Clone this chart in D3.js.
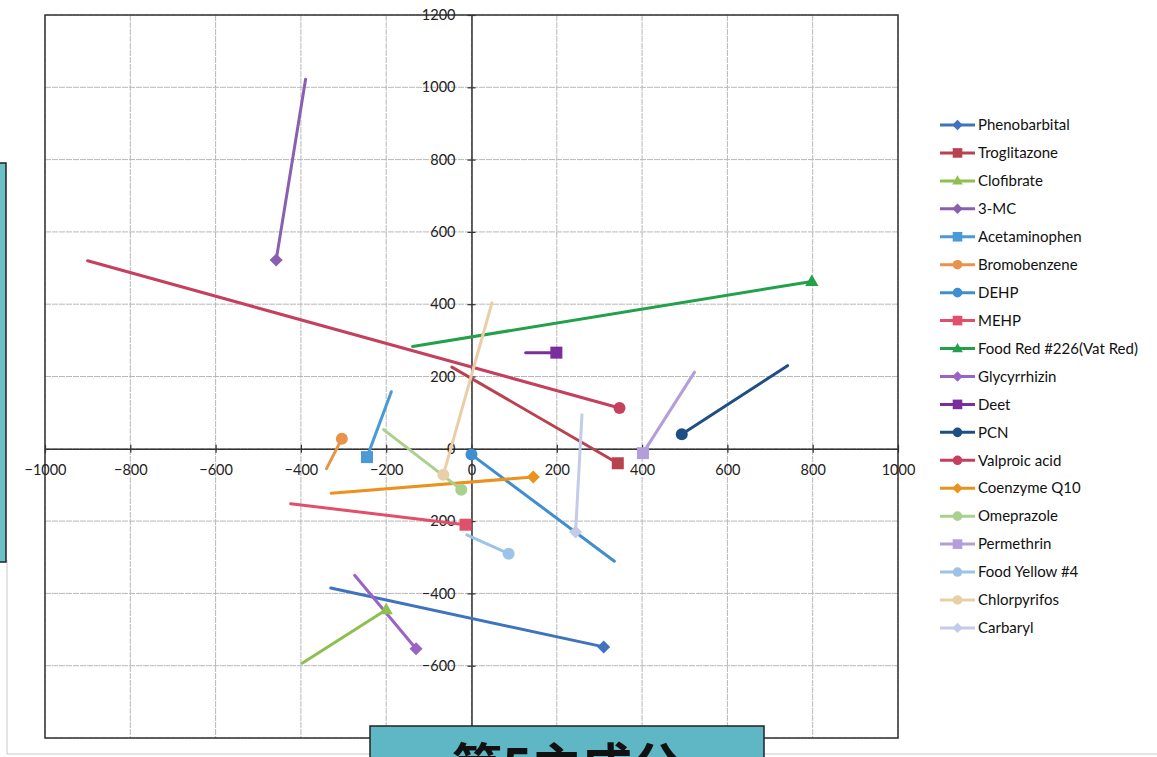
<!DOCTYPE html>
<html><head><meta charset="utf-8">
<script src="https://cdn.jsdelivr.net/npm/d3@7/dist/d3.min.js"></script>
<style>body{margin:0;background:#fff;}svg{display:block;}</style>
</head><body>
<svg id="c" width="1157" height="757"></svg>
<script>
const seriesNames = ["Phenobarbital","Troglitazone","Clofibrate","3-MC","Acetaminophen","Bromobenzene","DEHP","MEHP","Food Red #226(Vat Red)","Glycyrrhizin","Deet","PCN","Valproic acid","Coenzyme Q10","Omeprazole","Permethrin","Food Yellow #4","Chlorpyrifos","Carbaryl"];
const startX = [-330,-46,-397,-389,-188,-340,335,-424,-138,-274,127,741,-900,-329,-206,523,-11,48,259];
const startY = [-385,226,-593,1022,158,-55,-311,-152,283,-350,266,230,520,-123,53,212,-238,404,94];
const endX = [310,343,-200,-458,-245,-304,0,-14,798,-130,199,493,347,145,-24,402,87,-66,244];
const endY = [-548,-40,-445,522,-23,28,-16,-210,463,-553,266,40,113,-78,-113,-12,-290,-72,-230];
const seriesColors = ["#3f72bf","#b8434f","#8fbf4f","#8a5fb0","#4a9ad8","#e8924a","#3f8fd0","#e0506a","#22a04a","#9a63c8","#7a2e9e","#1f4e85","#c4405e","#eb921e","#a9d18e","#b39ddb","#9dc3e6","#e8cfa8","#c3cbe8"];
const seriesMarkers = ["diamond","square","triangle","diamond","square","circle","circle","square","triangle","diamond","square","circle","circle","diamond","circle","square","circle","circle","diamond"];
const xTicks = [-1000,-800,-600,-400,-200,0,200,400,600,800,1000];
const yTicks = [-800,-600,-400,-200,0,200,400,600,800,1000,1200];
const boxLabel = "第5主成分";

const svg = d3.select("#c");
const x = d3.scaleLinear().domain([-1000,1000]).range([45,898]);
const y = d3.scaleLinear().domain([-800,1200]).range([738,15]);

// outer frame
svg.append("line").attr("x1",7).attr("x2",7).attr("y1",560).attr("y2",754).attr("stroke","#c8c8c8").attr("stroke-width",1);
svg.append("line").attr("x1",7).attr("x2",1157).attr("y1",754).attr("y2",754).attr("stroke","#c8c8c8").attr("stroke-width",1);
// left teal box
svg.append("rect").attr("x",-2).attr("y",163).attr("width",8).attr("height",399).attr("fill","#6cc0c8").attr("stroke","#222").attr("stroke-width",1.5);

// grid
const g = svg.append("g");
g.selectAll(".gx").data(xTicks).enter().append("line")
  .attr("x1",d=>x(d)).attr("x2",d=>x(d)).attr("y1",y(1200)).attr("y2",y(-800))
  .attr("stroke","#b8b8b8").attr("stroke-width",1).attr("stroke-dasharray","6,1");
g.selectAll(".gy").data(yTicks).enter().append("line")
  .attr("x1",x(-1000)).attr("x2",x(1000)).attr("y1",d=>y(d)).attr("y2",d=>y(d))
  .attr("stroke","#b8b8b8").attr("stroke-width",1).attr("stroke-dasharray","6,1");
// plot border
svg.append("rect").attr("x",x(-1000)).attr("y",y(1200)).attr("width",x(1000)-x(-1000)).attr("height",y(-800)-y(1200))
  .attr("fill","none").attr("stroke","#333").attr("stroke-width",1.5);

// axes through zero
const xAxis = d3.axisBottom(x).tickValues(xTicks).tickSize(0).tickFormat(d3.format("d"));
const yAxis = d3.axisLeft(y).tickValues(yTicks.filter(d=>d>-800)).tickSize(0).tickFormat(d3.format("d"));
const ax = svg.append("g").attr("transform",`translate(0,${y(0)})`).call(xAxis);
ax.select(".domain").attr("stroke","#333").attr("stroke-width",1.5);
ax.selectAll(".tick text").attr("dy","0").attr("y",26).attr("font-family","Lato, 'Open Sans', sans-serif").attr("font-size",14.5).attr("fill","#222");
ax.selectAll(".tick").append("line").attr("y1",-4).attr("y2",4).attr("stroke","#333").attr("stroke-width",1.2);
const ay = svg.append("g").attr("transform",`translate(${x(0)},0)`).call(yAxis);
ay.select(".domain").attr("stroke","#333").attr("stroke-width",1.5);
ay.selectAll(".tick text").attr("x",-16).attr("font-family","Lato, 'Open Sans', sans-serif").attr("font-size",14.5).attr("fill","#222");
ay.selectAll(".tick").append("line").attr("x1",-4).attr("x2",4).attr("stroke","#333").attr("stroke-width",1.2);

// marker drawing
function marker(sel, type, cx, cy, color, s){
  s = s || 1;
  if(type==="diamond"){
    const r=6.5*s;
    sel.append("path").attr("d",`M${cx},${cy-r}L${cx+r},${cy}L${cx},${cy+r}L${cx-r},${cy}Z`).attr("fill",color);
  } else if(type==="square"){
    const h=6*s;
    sel.append("rect").attr("x",cx-h).attr("y",cy-h).attr("width",2*h).attr("height",2*h).attr("fill",color);
  } else if(type==="triangle"){
    const r=7*s;
    sel.append("path").attr("d",`M${cx},${cy-r}L${cx+r*0.95},${cy+r*0.65}L${cx-r*0.95},${cy+r*0.65}Z`).attr("fill",color);
  } else {
    sel.append("circle").attr("cx",cx).attr("cy",cy).attr("r",6*s).attr("fill",color);
  }
}

const data = seriesNames.map((n,i)=>({name:n,x0:startX[i],y0:startY[i],x1:endX[i],y1:endY[i],color:seriesColors[i],m:seriesMarkers[i]}));
const lg = svg.append("g");
data.forEach(d=>{
  lg.append("line").attr("x1",x(d.x0)).attr("y1",y(d.y0)).attr("x2",x(d.x1)).attr("y2",y(d.y1))
    .attr("stroke",d.color).attr("stroke-width",3).attr("stroke-linecap","round");
});
data.forEach(d=>{ marker(lg,d.m,x(d.x1),y(d.y1),d.color,1); });

// legend
const leg = svg.append("g");
data.forEach((d,i)=>{
  const ly = 125 + i*27.94;
  leg.append("line").attr("x1",940).attr("x2",975).attr("y1",ly).attr("y2",ly).attr("stroke",d.color).attr("stroke-width",3);
  marker(leg,d.m,957.5,ly,d.color,0.8);
  leg.append("text").attr("x",978).attr("y",ly).attr("dy","0.35em").text(d.name)
    .attr("font-family","Lato, 'Open Sans', sans-serif").attr("font-size",15).attr("fill","#111");
});

// bottom teal box with label
const bx = svg.append("g");
bx.append("rect").attr("x",370).attr("y",726).attr("width",394).attr("height",40).attr("fill","#5fb6c4").attr("stroke","#222").attr("stroke-width",1.5);
bx.append("text").attr("x",567).attr("y",785).attr("text-anchor","middle").text(boxLabel)
  .attr("font-family","'Noto Sans CJK JP', sans-serif").attr("font-weight","bold").attr("font-size",50).attr("fill","#111");
</script>
</body></html>
